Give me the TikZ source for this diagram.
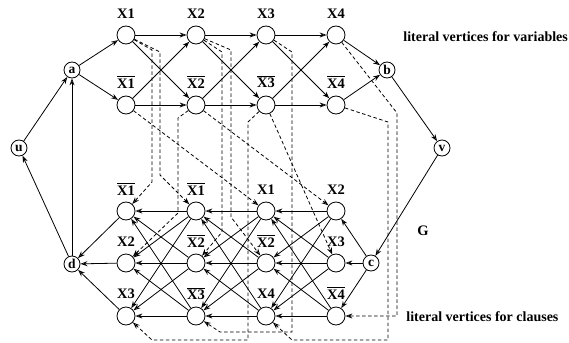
\documentclass[tikz,border=0pt]{standalone}
\usepackage{fontspec}
\setmainfont{Liberation Serif}
\usetikzlibrary{arrows.meta}
\newcommand\ovlit[1]{\vbox{\hrule height 0.9pt\kern 1.6pt\hbox{#1}}}
\begin{document}
\begin{tikzpicture}[x=1pt,y=-1pt,line width=0.8pt,
  lit/.style={circle,draw,minimum size=18pt,inner sep=0pt},
  sv/.style={circle,draw,minimum size=16pt,inner sep=0pt,font=\bfseries\fontsize{13.5}{14}\selectfont},
  lab/.style={font=\bfseries\fontsize{14.5}{15}\selectfont,inner sep=0pt},
  txt/.style={font=\bfseries\fontsize{14}{15}\selectfont,inner sep=0pt,anchor=west},
  arr/.style={-{Stealth[open,length=7pt,width=5pt]}},
  dsh/.style={arr,dash pattern=on 3.5pt off 2.5pt}]
\useasboundingbox (0,0) rectangle (569,342);
% special vertices
\node[sv] (a) at (72,70) {a};
\node[sv] (b) at (387,70) {b};
\node[sv] (u) at (19,148) {u};
\node[sv] (v) at (442,148) {v};
\node[sv] (d) at (72,264) {d};
\node[sv] (c) at (371,263) {c};
% variable literal vertices
\foreach \i/\x in {1/126,2/196,3/266,4/336}{
  \node[lit] (p\i) at (\x,35) {};
  \node[lit] (n\i) at (\x,105) {};
  \node[lab] (lp\i) at (\x,14) {X\i};
  \node[lab] (ln\i) at (\x,82) {\ovlit{X\i}};
}
% clause literal vertices
\foreach \k/\x in {1/126,2/196,3/266,4/336}{
  \foreach \r/\y in {1/211,2/263,3/316}{
    \node[lit] (q\k\r) at (\x,\y) {};
  }
}
\node[lab] at (126,189) {\ovlit{X1}};
\node[lab] at (126,242) {X2};
\node[lab] at (126,294) {X3};
\node[lab] at (196,189) {\ovlit{X1}};
\node[lab] at (196,241) {\ovlit{X2}};
\node[lab] at (196,294) {\ovlit{X3}};
\node[lab] at (266,190) {X1};
\node[lab] at (266,241) {\ovlit{X2}};
\node[lab] at (266,294) {X4};
\node[lab] at (336,190) {X2};
\node[lab] at (336,242) {X3};
\node[lab] at (336,293) {\ovlit{X4}};
% texts
\node[txt] (t1) at (403,37) {literal vertices for variables};
\node[txt] (t2) at (406,317) {literal vertices for clauses};
\node[lab] (G) at (423,231) {G};
% outer cycle
\draw[arr] (u) -- (a);
\draw[arr] (d) -- (u);
\draw[arr] (d) -- (a);
\draw[arr] (a) -- (p1);
\draw[arr] (a) -- (n1);
\draw[arr] (p4) -- (b);
\draw[arr] (n4) -- (b);
\draw[arr] (b) -- (v);
\draw[arr] (v) -- (c);
\foreach \i/\j in {1/2,2/3,3/4}{
  \draw[arr] (p\i) -- (p\j);
  \draw[arr] (p\i) -- (n\j);
  \draw[arr] (n\i) -- (p\j);
  \draw[arr] (n\i) -- (n\j);
}
\foreach \r in {1,2,3}{
  \draw[arr] (c) -- (q4\r);
  \draw[arr] (q1\r) -- (d);
}
\foreach \k/\kk in {2/1,3/2,4/3}{
  \foreach \r in {1,2,3}{
    \foreach \s in {1,2,3}{
      \draw[arr] (q\k\r) -- (q\kk\s);
    }
  }
}
% dashed connections
\draw[dsh] (p1) -- (152,50) -- (152,182) -- (q11);
\draw[dsh] (p1) -- (160,52) -- (160,175) -- (q21);
\draw[dsh] (n1) -- (q31);
\draw[dsh] (n2) -- (178,118) -- (178,213) -- (q12);
\draw[dsh] (n2) -- (q41);
\draw[dsh] (p2) -- (222,52) -- (222,232) -- (q22);
\draw[dsh] (p2) -- (231,50) -- (231,217) -- (q32);
\draw[dsh] (p3) -- (292,52) -- (292,332) -- (220,332) -- (q23);
\draw[dsh] (n3) -- (248,122) -- (248,340) -- (152,340) -- (q13);
\draw[dsh] (n3) -- (q42);
\draw[dsh] (p4) -- (397,113) -- (397,316) -- (q43);
\draw[dsh] (n4) -- (388,122) -- (388,340) -- (292,340) -- (q33);
\end{tikzpicture}
\end{document}
